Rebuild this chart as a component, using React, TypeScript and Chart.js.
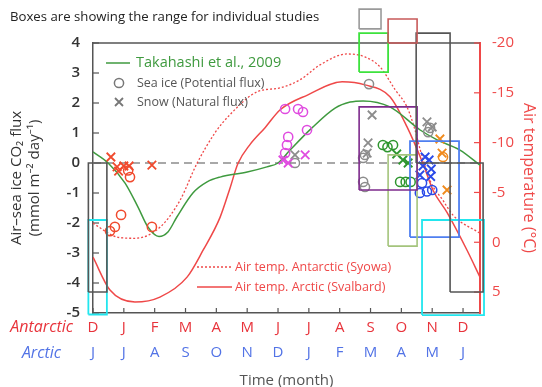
import React, { useEffect, useRef } from "react";
import { Chart, registerables } from "chart.js";

Chart.register(...registerables);

// ---------- categories / ticks ----------
const antarcticMonths = ["D", "J", "F", "M", "A", "M", "J", "J", "A", "S", "O", "N", "D"];
const arcticMonths = ["J", "J", "A", "S", "O", "N", "D", "J", "F", "M", "A", "M", "J"];
const fluxTicks = [-5, -4, -3, -2, -1, 0, 1, 2, 3, 4];
const tempTicks = [-20, -15, -10, -5, 0, 5];

// ---------- curves ----------
const takahashiX = [0, 0.49, 1.04, 1.46, 1.78, 2.14, 2.43, 2.72, 3.24, 3.7, 4.12, 5.0, 5.64, 6.0, 6.39, 7.1, 7.85, 8.34, 8.76, 9.63, 10.61, 11.16, 11.9, 12.55];
const takahashiFlux = [0.37, 0.0, -0.67, -1.47, -2.13, -2.45, -2.3, -1.8, -1.0, -0.63, -0.47, -0.3, -0.13, 0.0, 0.43, 1.17, 1.83, 2.03, 2.07, 1.87, 1.1, 0.77, 0.43, -0.07];

const arcticAirX = [0, 0.55, 1.36, 2.17, 3.05, 3.57, 4.12, 4.44, 4.7, 5.09, 5.58, 6.07, 6.97, 8.08, 8.82, 9.63, 10.18, 10.7, 11.03, 11.48, 12.13, 12.55];
const arcticAirTemp = [1.5, 4.8, 6.0, 5.5, 3.5, 0.8, -2.5, -5.4, -7.9, -9.8, -11.5, -13.3, -14.8, -16.1, -15.8, -14.6, -11.6, -7.9, -5.2, -3.0, 0.8, 3.5];

const antarcticAirX = [0, 0.81, 1.36, 2.17, 2.82, 3.37, 3.96, 4.44, 5.32, 6.07, 6.71, 7.36, 8.24, 8.82, 9.31, 9.8, 10.18, 10.44, 10.61, 10.93, 11.35, 11.68, 12.55];
const antarcticAirTemp = [-1.9, -0.5, -0.4, -1.5, -4.2, -7.9, -11.0, -12.8, -15.1, -15.5, -16.3, -17.8, -18.9, -18.6, -17.6, -15.3, -13.6, -11.3, -9.3, -6.2, -4.2, -2.7, -0.9];

const zeroLineX = [0, 12.55];
const zeroLineFlux = [0, 0];

// ---------- individual measurements [month, flux] ----------
const redSeaIce = [[1.14, -0.25], [1.2, -0.47], [0.91, -1.73], [0.71, -2.13], [0.55, -2.27], [1.91, -2.13]];
const redSnow = [[0.58, 0.2], [0.78, -0.13], [0.83, -0.27], [1.0, -0.1], [1.17, -0.1], [1.91, -0.07]];
const magentaSeaIce = [[6.23, 1.8], [6.65, 1.8], [6.81, 1.7], [6.94, 1.1], [6.33, 0.87], [6.29, 0.6], [6.23, 0.33]];
const magentaSnow = [[6.16, 0.1], [6.33, 0.0], [6.88, 0.27]];
const graySeaIce = [[6.55, 0.0], [8.95, 2.63], [8.82, 0.27], [8.76, 0.17], [8.76, -0.63], [8.82, -0.8], [10.93, 1.17], [10.87, 1.03]];
const graySnow = [[6.55, 0.27], [9.05, 1.6], [8.92, 0.67], [8.89, 0.33], [10.83, 1.37], [11.0, 1.2]];
const greenSeaIce = [[9.4, 0.6], [9.55, 0.53], [9.73, 0.6], [9.96, -0.63], [10.14, -0.63], [10.3, -0.63]];
const greenSnow = [[9.85, 0.3], [10.05, 0.1], [10.22, 0.0]];
const blueSeaIce = [[10.67, -0.67], [10.6, -1.0], [10.83, -0.95], [11.0, -0.9]];
const blueSnow = [[10.77, 0.2], [10.9, 0.1], [10.7, -0.1], [10.97, -0.2], [10.6, -0.4], [10.95, -0.45]];
const orangeSeaIce = [[11.35, 0.2]];
const orangeSnow = [[11.25, 0.8], [11.32, 0.33], [11.48, -0.9]];

// ---------- study ranges [monthStart, monthEnd, fluxLow, fluxHigh] ----------
const boxBlackLeft = [-0.15, 0.45, -4.3, 0];
const boxCyanLeft = [-0.15, 0.45, -5.05, -1.9];
const boxGrayTop = [8.63, 9.34, 4.47, 5.13];
const boxRedTop = [9.57, 10.51, 4.0, 4.8];
const boxGreen = [8.63, 9.57, 3.03, 4.33];
const boxBlackTall = [10.48, 11.58, 0, 4.33];
const boxBlackRight = [11.58, 12.65, -4.3, 0];
const boxPurple = [8.63, 10.51, -0.9, 1.87];
const boxOlive = [9.57, 10.51, -2.77, 0.27];
const boxBlue = [10.28, 11.87, -2.47, 0.73];
const boxCyanRight = [10.67, 12.68, -5.07, -1.9];

// ---------- styles ----------
const F = "'Open Sans', 'Noto Sans', 'Liberation Sans', sans-serif";
const RED = "#ef4848";
const MONTH_RED = "#e8333b";
const MONTH_BLUE = "#5273e6";
const GREEN = "#3f9a3f";
const AXIS = "#555555";

const pts = (arr: number[][]) => arr.map((p) => ({ x: p[0], y: p[1] }));
const xy = (xs: number[], ys: number[]) => xs.map((x, i) => ({ x, y: ys[i] }));
const rect = (b: number[]) => [
  { x: b[0], y: b[2] },
  { x: b[1], y: b[2] },
  { x: b[1], y: b[3] },
  { x: b[0], y: b[3] },
  { x: b[0], y: b[2] },
];

const boxDs = (b: number[], color: string, width = 1.6) => ({
  type: "line",
  data: rect(b),
  borderColor: color,
  borderWidth: width,
  pointRadius: 0,
  tension: 0,
  fill: false,
  clip: false,
  borderJoinStyle: "miter",
});

const markDs = (arr: number[][], color: string, snow: boolean) => ({
  type: "scatter",
  data: pts(arr),
  pointStyle: snow ? "crossRot" : "circle",
  pointRadius: snow ? 6 : 4.6,
  pointBorderColor: color,
  pointBackgroundColor: "rgba(0,0,0,0)",
  pointBorderWidth: snow ? 1.8 : 1.5,
  showLine: false,
  clip: false,
});

const curveDs = (xs: number[], ys: number[], axis: string, color: string, width: number, dash: number[]) => ({
  type: "line",
  data: xy(xs, ys),
  yAxisID: axis,
  borderColor: color,
  borderWidth: width,
  borderDash: dash,
  pointRadius: 0,
  cubicInterpolationMode: "monotone",
  fill: false,
});

const overlay = {
  id: "overlay",
  beforeDatasetsDraw(chart: any) {
    const { ctx, chartArea: a, scales } = chart;
    ctx.save();
    ctx.lineCap = "butt";
    ctx.strokeStyle = AXIS;
    ctx.lineWidth = 1.5;
    ctx.beginPath();
    ctx.moveTo(a.left, a.top);
    ctx.lineTo(a.right, a.top);
    ctx.stroke();
    ctx.lineWidth = 1.2;
    for (const t of scales.y.ticks) {
      const py = scales.y.getPixelForValue(t.value);
      ctx.beginPath();
      ctx.moveTo(a.left, py);
      ctx.lineTo(a.left + 6, py);
      ctx.stroke();
    }
    for (const t of scales.x.ticks) {
      const px = scales.x.getPixelForValue(t.value);
      ctx.beginPath();
      ctx.moveTo(px, a.bottom);
      ctx.lineTo(px, a.bottom - 5);
      ctx.stroke();
    }
    ctx.strokeStyle = RED;
    for (const t of scales.y2.ticks) {
      const py = scales.y2.getPixelForValue(t.value);
      ctx.beginPath();
      ctx.moveTo(a.right, py);
      ctx.lineTo(a.right - 6, py);
      ctx.stroke();
    }
    ctx.restore();
  },
  afterDraw(chart: any) {
    const { ctx } = chart;
    ctx.save();
    ctx.textBaseline = "middle";
    ctx.textAlign = "left";
    // header
    ctx.fillStyle = "#222";
    ctx.font = `13.2px ${F}`;
    ctx.fillText("Boxes are showing the range for individual studies", 10, 17);
    // top legend
    ctx.strokeStyle = GREEN;
    ctx.lineWidth = 1.5;
    ctx.beginPath();
    ctx.moveTo(106, 63);
    ctx.lineTo(130, 63);
    ctx.stroke();
    ctx.fillStyle = GREEN;
    ctx.font = `14.5px ${F}`;
    ctx.fillText("Takahashi et al., 2009", 136, 63);
    ctx.font = `12.5px ${F}`;
    ctx.strokeStyle = "#777";
    ctx.beginPath();
    ctx.arc(119, 83, 4.6, 0, Math.PI * 2);
    ctx.stroke();
    ctx.lineWidth = 1.8;
    ctx.beginPath();
    ctx.moveTo(115, 98);
    ctx.lineTo(123, 106);
    ctx.moveTo(123, 98);
    ctx.lineTo(115, 106);
    ctx.stroke();
    ctx.fillStyle = "#555";
    ctx.fillText("Sea ice (Potential flux)", 137, 83);
    ctx.fillText("Snow (Natural flux)", 137, 102);
    // bottom legend
    ctx.strokeStyle = RED;
    ctx.lineWidth = 1.3;
    ctx.setLineDash([2, 2]);
    ctx.beginPath();
    ctx.moveTo(197, 267);
    ctx.lineTo(232, 267);
    ctx.stroke();
    ctx.setLineDash([]);
    ctx.lineWidth = 1.5;
    ctx.beginPath();
    ctx.moveTo(197, 287);
    ctx.lineTo(232, 287);
    ctx.stroke();
    ctx.fillStyle = RED;
    ctx.fillText("Air temp. Antarctic (Syowa)", 235, 267);
    ctx.fillText("Air temp. Arctic (Svalbard)", 235, 287);
    // row labels
    ctx.textAlign = "right";
    ctx.font = `italic 16px ${F}`;
    ctx.fillStyle = MONTH_RED;
    ctx.fillText("Antarctic", 73, 327);
    ctx.fillStyle = MONTH_BLUE;
    ctx.fillText("Arctic", 61, 353);
    ctx.restore();
  },
};

export default function App() {
  const ref = useRef<HTMLCanvasElement | null>(null);

  useEffect(() => {
    if (!ref.current) return;
    const datasets: any[] = [
      boxDs(boxBlackLeft, AXIS),
      boxDs(boxCyanLeft, "#22e6ee", 1.8),
      boxDs(boxGrayTop, "#9a9a9a"),
      boxDs(boxRedTop, "#c85a5a"),
      boxDs(boxGreen, "#3de23d", 1.8),
      boxDs(boxBlackTall, AXIS),
      boxDs(boxBlackRight, AXIS),
      boxDs(boxPurple, "#7d2a8c"),
      boxDs(boxOlive, "#a4c47c"),
      boxDs(boxBlue, "#4f7ff0", 1.8),
      boxDs(boxCyanRight, "#22e6ee", 1.8),
      markDs(redSeaIce, "#f04a2e", false),
      markDs(redSnow, "#f04a2e", true),
      markDs(magentaSeaIce, "#e04ce0", false),
      markDs(magentaSnow, "#e04ce0", true),
      markDs(graySeaIce, "#8c8c8c", false),
      markDs(graySnow, "#8c8c8c", true),
      markDs(greenSeaIce, "#2e962e", false),
      markDs(greenSnow, "#2e962e", true),
      markDs(blueSeaIce, "#2a4ae8", false),
      markDs(blueSnow, "#2a4ae8", true),
      markDs(orangeSeaIce, "#f08a1c", false),
      markDs(orangeSnow, "#f08a1c", true),
      curveDs(takahashiX, takahashiFlux, "y", GREEN, 1.5, []),
      curveDs(arcticAirX, arcticAirTemp, "y2", RED, 1.5, []),
      curveDs(antarcticAirX, antarcticAirTemp, "y2", RED, 1.3, [2, 2]),
      {
        type: "line",
        data: xy(zeroLineX, zeroLineFlux),
        borderColor: "#a8a8a8",
        borderWidth: 2,
        borderDash: [8, 5],
        pointRadius: 0,
        fill: false,
      },
    ];

    const chart = new Chart(ref.current, {
      type: "scatter",
      data: { datasets },
      plugins: [overlay],
      options: {
        animation: false,
        responsive: false,
        events: [],
        layout: { padding: { top: 43, left: 0, right: 0, bottom: 0 } },
        plugins: { legend: { display: false }, tooltip: { enabled: false }, title: { display: false } },
        scales: {
          x: {
            type: "linear",
            position: "bottom",
            weight: 0,
            min: 0,
            max: 12.55,
            afterBuildTicks: (s: any) => {
              s.ticks = antarcticMonths.map((_, i) => ({ value: i }));
            },
            ticks: {
              callback: (v: any) => antarcticMonths[v],
              color: MONTH_RED,
              font: { size: 15, family: F },
              padding: 6,
              autoSkip: false,
              maxRotation: 0,
            },
            grid: { drawOnChartArea: false, drawTicks: false },
            border: { color: AXIS, width: 1.5 },
            afterFit: (s: any) => {
              s.height = 27;
            },
          },
          x2: {
            type: "linear",
            position: "bottom",
            weight: 1,
            min: 0,
            max: 12.55,
            afterBuildTicks: (s: any) => {
              s.ticks = arcticMonths.map((_, i) => ({ value: i }));
            },
            ticks: {
              callback: (v: any) => arcticMonths[v],
              color: MONTH_BLUE,
              font: { size: 15, family: F },
              padding: 4,
              autoSkip: false,
              maxRotation: 0,
            },
            grid: { display: false, drawTicks: false },
            border: { display: false },
            title: {
              display: true,
              text: "Time (month)",
              color: "#555",
              font: { size: 15, family: F },
              padding: { top: 0, bottom: -3 },
            },
            afterFit: (s: any) => {
              s.height = 47;
            },
          },
          y: {
            type: "linear",
            position: "left",
            min: -5,
            max: 4,
            afterBuildTicks: (s: any) => {
              s.ticks = fluxTicks.map((v) => ({ value: v }));
            },
            ticks: {
              color: "#333",
              font: { size: 15, family: F, weight: "600" },
              padding: 13,
            },
            grid: { drawOnChartArea: false, drawTicks: false },
            border: { color: AXIS, width: 1.5 },
            title: {
              display: true,
              text: ["Air–sea ice CO\u2082 flux", "(mmol m\u207B\u00B2 day\u207B\u00B9)"],
              color: "#333",
              font: { size: 15, family: F },
              padding: { top: 8, bottom: 0 },
            },
            afterFit: (s: any) => {
              s.width = 93;
            },
          },
          y2: {
            type: "linear",
            position: "right",
            reverse: true,
            min: -20,
            max: 7.1,
            afterBuildTicks: (s: any) => {
              s.ticks = tempTicks.map((v) => ({ value: v }));
            },
            ticks: {
              color: RED,
              font: { size: 15, family: F },
              padding: 12,
            },
            grid: { drawOnChartArea: false, drawTicks: false },
            border: { color: RED, width: 2 },
            title: {
              display: true,
              text: "Air temperature (°C)",
              color: RED,
              font: { size: 16, family: F },
              padding: { top: 4, bottom: 0 },
            },
            afterFit: (s: any) => {
              s.width = 62;
            },
          },
        },
      } as any,
    } as any);
    return () => chart.destroy();
  }, []);

  return (
    <div style={{ position: "fixed", left: 0, top: 0, width: 542, height: 387, background: "#fff" }}>
      <canvas ref={ref} width={542} height={387} style={{ display: "block" }} />
    </div>
  );
}
